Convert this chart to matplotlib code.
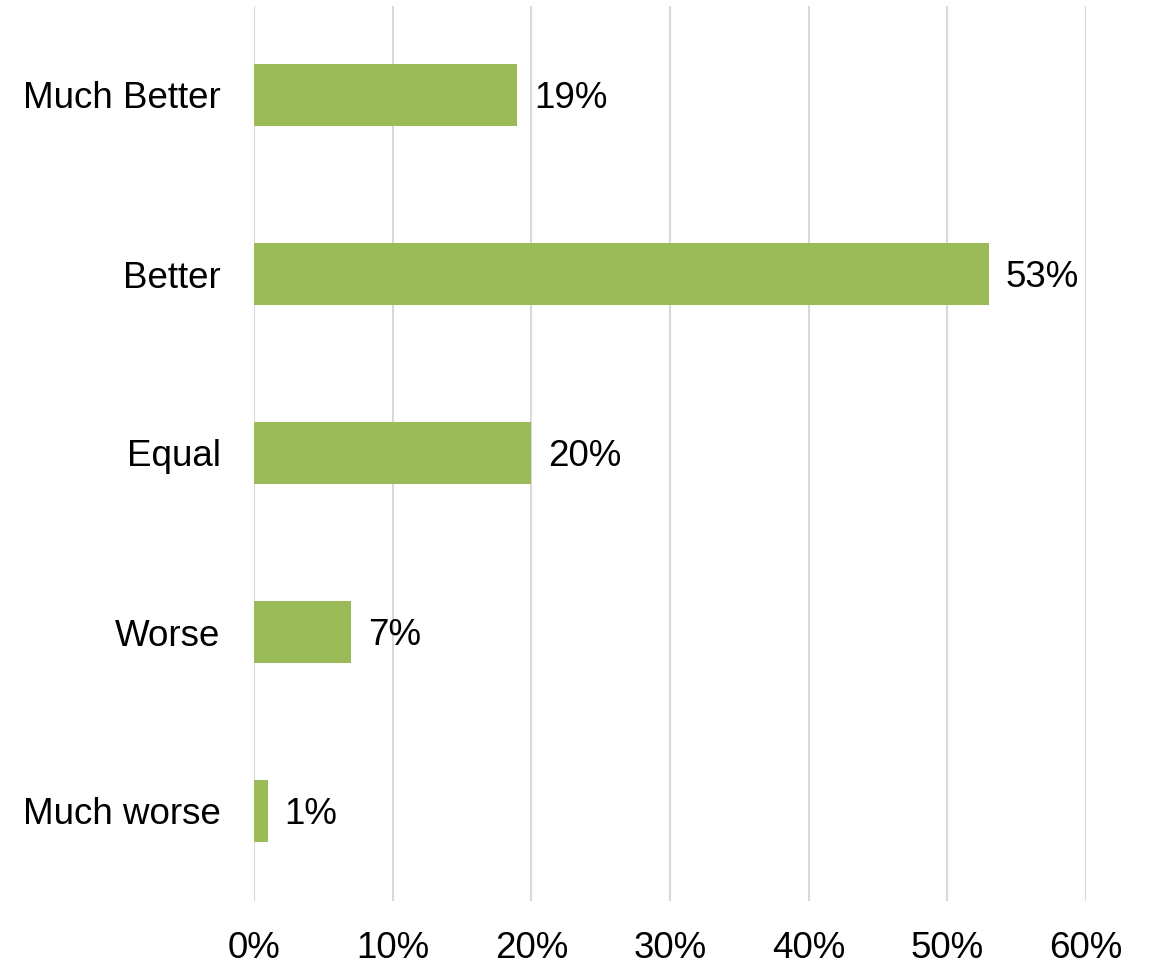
import matplotlib.pyplot as plt
from matplotlib.ticker import PercentFormatter

plt.rcParams['font.family'] = ['Liberation Sans', 'DejaVu Sans']

categories = ["Much Better", "Better", "Equal", "Worse", "Much worse"]
shares = [19, 53, 20, 7, 1]
xticks = [0, 10, 20, 30, 40, 50, 60]

bar_color = "#9BBB59"
grid_color = "#D9D9D9"

fig = plt.figure(figsize=(11.54, 9.65), dpi=100)
ax = fig.add_axes([254 / 1154, 1 - 900.5 / 965, (1086 - 254) / 1154, 895 / 965])

ypos = list(range(len(categories)))
bars = ax.barh(ypos, shares, height=0.35, color=bar_color, zorder=3)

# value labels just right of each bar
for y, v in zip(ypos, shares):
    ax.text(v + 1.2, y + 0.018, f"{v}%", va="center", ha="left", fontsize=26.5, zorder=4)

ax.set_xlim(0, 60)
ax.set_ylim(len(categories) - 0.5, -0.5)
ax.set_yticks(ypos)
ax.set_yticklabels(categories)
ax.set_xticks(xticks)
ax.xaxis.set_major_formatter(PercentFormatter(decimals=0))

ax.grid(axis="x", color=grid_color, linewidth=1.5, zorder=0)
ax.grid(axis="y", visible=False)
for s in ax.spines.values():
    s.set_visible(False)
ax.tick_params(axis="both", length=0, labelsize=26.5)
ax.tick_params(axis="y", pad=24)
ax.tick_params(axis="x", pad=22)

fig.savefig("out.png", dpi=100, facecolor="white")
